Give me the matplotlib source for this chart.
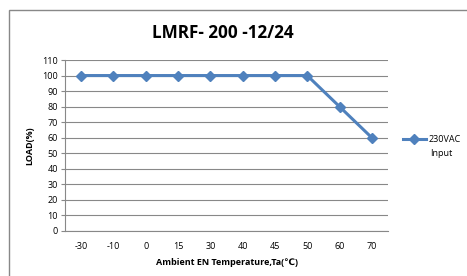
import matplotlib
matplotlib.use("Agg")
import matplotlib.pyplot as plt
from matplotlib.patches import Rectangle

temps = ["-30", "-10", "0", "15", "30", "40", "45", "50", "60", "70"]
load = [100, 100, 100, 100, 100, 100, 100, 100, 80, 60]
yticks = list(range(0, 111, 10))

plt.rcParams.update({"font.family": ["Open Sans", "DejaVu Sans"]})

W, H = 467, 276
fig = plt.figure(figsize=(W / 100, H / 100), dpi=100)
fig.patches.append(Rectangle((9 / W, -0.1), 1.2, 1 - 10 / H + 0.1,
                             transform=fig.transFigure, fill=False,
                             ec="#888888", lw=1.0))

ax = fig.add_axes([65 / W, 1 - 231 / H, 323 / W, 171 / H])
x = range(len(temps))
ax.plot(x, load, color="#4F81BD", lw=2.2, marker="D", ms=5,
        label="230VAC")
ax.set_xlim(-0.5, len(temps) - 0.5)
ax.set_ylim(0, 110)
ax.set_yticks(yticks)
ax.set_xticks(list(x), temps)
ax.tick_params(axis="y", labelsize=6.5, length=3, color="#888888", pad=2)
ax.tick_params(axis="x", labelsize=6.5, length=0, pad=8)
ax.grid(axis="y", color="#888888", lw=0.8)
ax.set_axisbelow(True)
for s in ["top", "right"]:
    ax.spines[s].set_visible(False)
for s in ["left", "bottom"]:
    ax.spines[s].set_color("#888888")

ax.set_ylabel("LOAD(%)", fontsize=6.5, fontweight="bold", labelpad=6)
ax.set_xlabel("Ambient EN Temperature,Ta(℃)", fontsize=6.5,
              fontweight="bold", labelpad=5)
fig.text(223 / W, 1 - 33 / H, "LMRF- 200 -12/24", fontsize=12.3,
         fontweight="bold", ha="center", va="center")
fig.legend(loc="center left", bbox_to_anchor=(398 / W, 1 - 140 / H),
           frameon=False, fontsize=6.5, handlelength=2.6,
           handletextpad=0.3, borderpad=0)
fig.text(430 / W, 1 - 153 / H, "Input", fontsize=6.5, ha="left",
         va="center")

fig.savefig("out.png", dpi=100)
